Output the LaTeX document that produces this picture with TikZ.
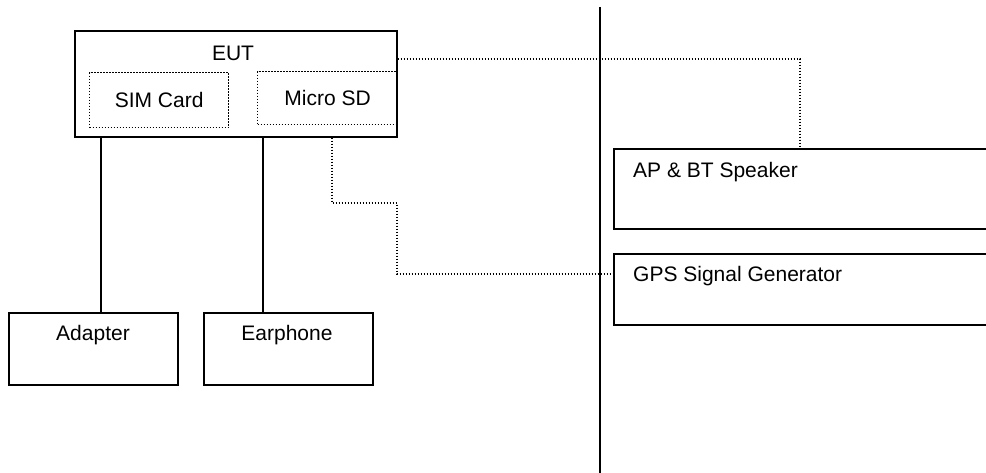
\documentclass[tikz,border=0pt]{standalone}
\usepackage{fontspec}
\setmainfont{Liberation Sans}
\begin{document}
\begin{tikzpicture}[x=1pt,y=-1pt,
  box/.style={draw,line width=1.6pt,rectangle,inner sep=0pt,anchor=north west},
  dotbox/.style={draw,line width=1.3pt,dash pattern=on 1.3pt off 1.7pt,rectangle,inner sep=0pt,anchor=north west},
  lbl/.style={inner sep=0pt,font=\fontsize{21}{25}\selectfont},
  wire/.style={line width=1.6pt},
  dotwire/.style={line width=1.3pt,dash pattern=on 1.3pt off 1.7pt}]
\useasboundingbox (0,0) rectangle (986,473);
\clip (0,0) rectangle (986,473);
% EUT
\node[box,minimum width=322,minimum height=106] (eut) at (74,30) {};
\node[lbl] (eutl) at (233,53) {EUT};
\node[dotbox,minimum width=139,minimum height=55] (sim) at (89,72) {};
\node[lbl] (siml) at (sim.center) {SIM Card};
\node[dotbox,minimum width=140,minimum height=53] (sd) at (257,71) {};
\node[lbl] (sdl) at (sd.center) {Micro SD};
% bottom boxes
\node[box,minimum width=169,minimum height=72] (adapter) at (8,312) {};
\node[lbl] (adl) at (93,335) {Adapter};
\node[box,minimum width=169,minimum height=72] (ear) at (203,312) {};
\node[lbl] (earl) at (287,335) {Earphone};
% right boxes
\node[box,minimum width=400,minimum height=80] (ap) at (613,148) {};
\node[lbl,anchor=west] (apl) at (633,172) {AP \& BT Speaker};
\node[box,minimum width=400,minimum height=71] (gps) at (613,253) {};
\node[lbl,anchor=west] (gpsl) at (633,276) {GPS Signal Generator};
% divider
\coordinate (dtop) at (600,7);
\coordinate (dbot) at (600,473);
\draw[line width=2pt] (dtop) -- (dbot);
% wires
\coordinate (xa) at (101,0);
\coordinate (xe) at (263,0);
\draw[wire] (eut.south -| xa) -- (adapter.north -| xa);
\draw[wire] (eut.south -| xe) -- (ear.north -| xe);
% dotted connectors
\coordinate (xs) at (332,0);
\coordinate (b1) at (332,203);
\coordinate (b2) at (397,274);
\draw[dotwire] (eut.south -| xs) -- (b1) -- (b1 -| b2) -- (b2) -- (b2 -| gps.west);
\coordinate (t1) at (800,59);
\draw[dotwire] (eut.east |- t1) -- (t1) -- (ap.north -| t1);
\end{tikzpicture}
\end{document}
